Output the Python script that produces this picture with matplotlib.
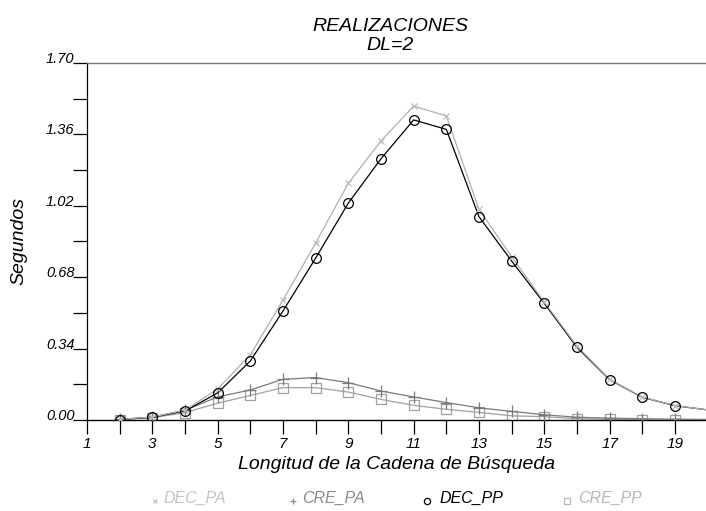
import numpy as np
import matplotlib
matplotlib.use('Agg')
import matplotlib.pyplot as plt
from matplotlib.lines import Line2D

plt.rcParams['font.family'] = ['Liberation Sans', 'DejaVu Sans']
plt.rcParams['font.style'] = 'italic'

x = [2, 3, 4, 5, 6, 7, 8, 9, 10, 11, 12, 13, 14, 15, 16, 17, 18, 19, 20]
dec_pa = [0.003, 0.014, 0.047, 0.148, 0.31, 0.571, 0.843, 1.127, 1.329, 1.495, 1.448, 1.003, 0.778,
          0.562, 0.352, 0.194, 0.109, 0.069, 0.048]
cre_pa = [0.003, 0.014, 0.046, 0.11, 0.143, 0.194, 0.202, 0.178, 0.138, 0.11, 0.083, 0.058, 0.041,
          0.025, 0.013, 0.009, 0.006, 0.004, 0.003]
dec_pp = [0.002, 0.013, 0.043, 0.129, 0.281, 0.519, 0.771, 1.033, 1.244, 1.429, 1.384, 0.968, 0.757,
          0.555, 0.346, 0.192, 0.108, 0.068, 0.048]
cre_pp = [0.002, 0.011, 0.035, 0.08, 0.117, 0.154, 0.154, 0.133, 0.098, 0.07, 0.051, 0.036, 0.02,
          0.016, 0.006, 0.003, 0.002, 0.001, 0.001]

yticks = [0.00, 0.34, 0.68, 1.02, 1.36, 1.70]
xticks_lab = [1, 3, 5, 7, 9, 11, 13, 15, 17, 19]

W, H = 706, 511
fig = plt.figure(figsize=(W / 100, H / 100), dpi=100)
ax = fig.add_axes([87/W, 91/H, 619/W, 357/H])

mk = slice(0, -1)
ax.plot(x, cre_pp, color='#a0a0a0', lw=0.9, marker='s', ms=6.5, mfc='none', mec='#a0a0a0',
        mew=0.9, markevery=mk, zorder=2)
ax.plot(x, cre_pa, color='#7a7a7a', lw=0.9, marker='+', ms=8, mec='#7a7a7a',
        mew=0.9, markevery=mk, zorder=3)
# DEC_PP line below the DEC_PA line, its circles on top
ax.plot(x, dec_pp, color='black', lw=0.9, zorder=3.2)
ax.plot(x, dec_pa, color='#b0b0b0', lw=0.9, marker='x', ms=5, mec='#bdbdbd',
        mew=0.9, markevery=mk, zorder=3.5)
ax.plot(x[:-1], dec_pp[:-1], ls='none', marker='o', ms=7, mfc='none', mec='black',
        mew=0.9, zorder=4)

ax.set_xlim(1, 19.95)
ax.set_ylim(0, 1.70)
ax.set_xticks(range(1, 20))
ax.set_xticklabels([str(v) if v in xticks_lab else '' for v in range(1, 20)])
ax.set_yticks(yticks)
ax.set_yticklabels(['%.2f' % v for v in yticks])
ax.set_yticks([v + 0.17 for v in yticks[:-1]], minor=True)
ax.tick_params(axis='y', which='both', direction='out', length=10, width=0.9, pad=-1,
               labelsize=10.5, colors='black')
ax.tick_params(axis='x', which='both', direction='out', length=10, width=0.9, pad=2,
               labelsize=11)
for lab in ax.get_yticklabels():
    lab.set_verticalalignment('baseline')

ax.spines['right'].set_visible(False)
ax.spines['top'].set_color('#777777')
ax.spines['top'].set_linewidth(1.0)
ax.spines['left'].set_linewidth(0.9)
ax.spines['bottom'].set_linewidth(1.0)

fig.text(390/W, 1 - 36/H, 'REALIZACIONES\nDL=2', fontsize=14, linespacing=1.2,
         ha='center', va='center')
ax.set_xlabel('Longitud de la Cadena de Búsqueda', fontsize=14, labelpad=4)
fig.text(19/W, 1 - 241/H, 'Segundos', fontsize=14, rotation=90, ha='center', va='center')

# legend drawn by hand below the axes
leg_names = ['DEC_PA', 'CRE_PA', 'DEC_PP', 'CRE_PP']
leg_marks = ['x', '+', 'o', 's']
leg_mcol = ['#c4c4c4', '#8a8a8a', 'black', '#b8b8b8']
leg_tcol = ['#c4c4c4', '#8a8a8a', 'black', '#b8b8b8']
leg_msize = [3.5, 5, 4.5, 4.5]
leg_mx = [155, 293, 427, 567]
leg_tx = [164, 302, 439, 578]
for name, m, mc, tc, ms, mx, tx in zip(leg_names, leg_marks, leg_mcol, leg_tcol,
                                       leg_msize, leg_mx, leg_tx):
    fig.add_artist(Line2D([mx / W], [1 - 501 / H], marker=m, ms=ms, mfc='none', mec=mc,
                          mew=0.9, ls='none', transform=fig.transFigure))
    fig.text(tx / W, 1 - 498 / H, name, fontsize=11.5, color=tc, ha='left', va='center')

fig.savefig('out.png', dpi=100)
